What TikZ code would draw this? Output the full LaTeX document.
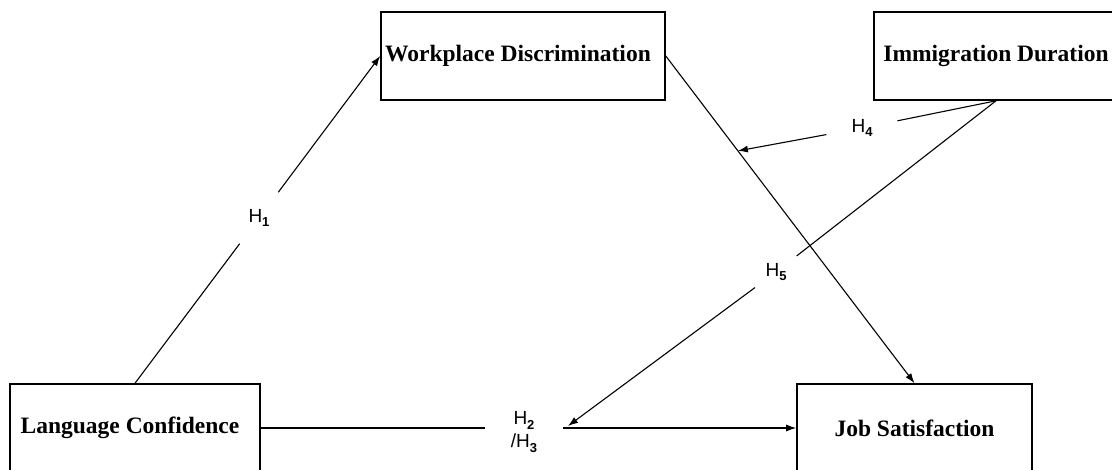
\documentclass[tikz,border=0pt]{standalone}
\usepackage{fontspec}
\setmainfont{Liberation Serif}
\newfontfamily\hfont{Liberation Sans}
\usetikzlibrary{arrows.meta,calc}
\newcommand{\hsub}[1]{\raisebox{-0.25em}{\fontsize{13}{13}\selectfont\bfseries #1}}
\begin{document}
\begin{tikzpicture}[x=1pt,y=-1pt,
  box/.style={draw,line width=1.6pt,rectangle,inner sep=0pt,
    font=\fontsize{23.5}{27}\selectfont\bfseries},
  conn/.style={line width=1.1pt},
  arr/.style={conn,-{Latex[length=10pt,width=7pt]}},
  hlab/.style={font=\hfont\fontsize{19}{23}\selectfont,inner sep=0pt,circle}]
\useasboundingbox (0,0) rectangle (1112,469);
\clip (0,0) rectangle (1112,469);
% boxes
\node[box,minimum width=284pt,minimum height=88pt] (wd) at (523,56) {\raisebox{4pt}{\hspace{-10pt}Workplace Discrimination}};
\node[box,minimum width=244pt,minimum height=88pt] (im) at (996,56) {\raisebox{3pt}{Immigration Duration}};
\node[box,minimum width=250pt,minimum height=88pt] (lc) at (135,428) {\hspace{-10pt}Language Confidence};
\node[box,minimum width=235pt,minimum height=88pt] (js) at (914.5,428) {Job Satisfaction};
% labels
\node[hlab,minimum size=64pt] (h1) at (259,218) {H\hsub{1}};
\node[hlab,minimum size=72pt] (h4) at (862,128) {H\hsub{4}};
\node[hlab,minimum size=52pt] (h5) at (776,272) {H\hsub{5}};
\node[hlab,rectangle,align=center,inner xsep=26pt] (h23) at (524,432) {H\hsub{2}\\/H\hsub{3}};
\coordinate (h4t) at ($(wd.east)!0.29!(js.north)$);
\coordinate (h5t) at (568,426);
% connectors
\draw[conn] (lc.north) -- (h1);
\draw[arr] (h1) -- (wd.west);
\draw[arr] (wd.east) -- (js.north);
\draw[conn] (im.south) -- (h4);
\draw[arr] (h4) -- (h4t);
\draw[conn] (im.south) -- (h5);
\draw[arr] (h5) -- (h5t);
\draw[conn] (lc.east) -- (lc.east -| h23.west);
\draw[arr] (lc.east -| h23.east) -- (js.west);
\end{tikzpicture}
\end{document}
